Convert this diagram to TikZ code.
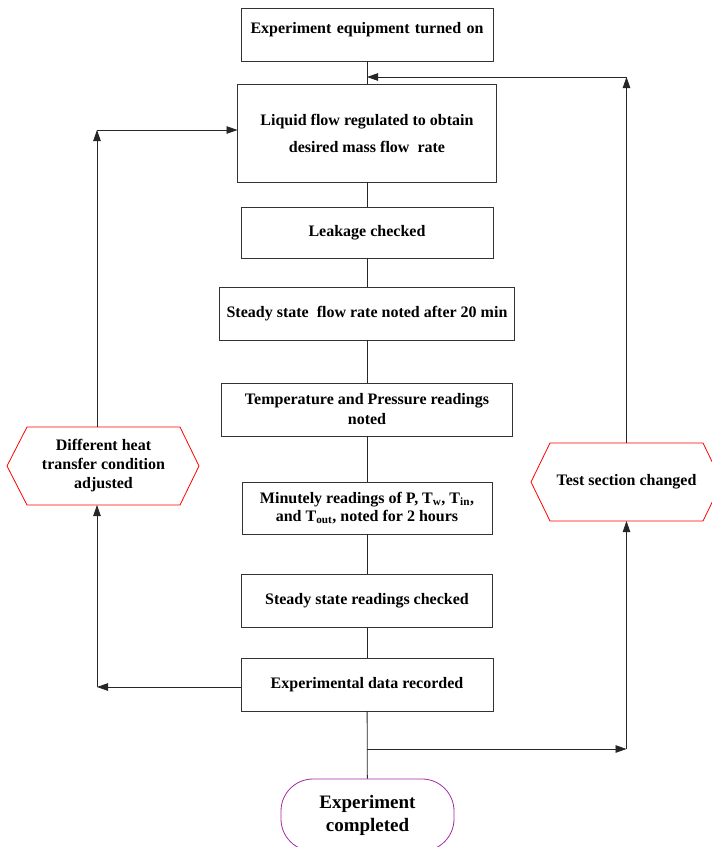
\documentclass[tikz,border=0pt]{standalone}
\usepackage{fontspec}
\setmainfont{Liberation Serif}
\usepackage{tikz}
\usetikzlibrary{arrows.meta}
\definecolor{endpurple}{RGB}{165,40,165}

\begin{document}
\begin{tikzpicture}[x=1pt, y=-1pt,
  stepbox/.style={draw=black!80, line width=0.8pt, rectangle, inner sep=0pt, outer sep=0pt,
    align=center, font=\fontsize{16}{20}\selectfont\bfseries},
  hexbox/.style={rectangle, inner sep=0pt, outer sep=0pt, minimum width=153pt, minimum height=78pt,
    align=center, font=\fontsize{16}{19}\selectfont\bfseries},
  hexline/.style={draw=red, line width=0.8pt},
  endbox/.style={draw=endpurple, line width=0.8pt, rounded corners=32pt, inner sep=0pt,
    minimum width=173pt, minimum height=72pt, align=center, font=\fontsize{19}{23}\selectfont\bfseries},
  link/.style={black!85, line width=0.8pt},
  flow/.style={link, -{Triangle[length=11pt,width=7.5pt]}}]

\useasboundingbox (0,0) rectangle (712,847);

% nodes
{
\node[stepbox, text width=252pt, text height=25pt, text depth=28pt] (box1) at (367,34.5) {Experiment equipment turned on};

\node[stepbox, minimum width=259pt, minimum height=98pt, font=\fontsize{16}{27}\selectfont\bfseries] (box2) at (367,133)
  {Liquid flow regulated to obtain\\desired mass flow\ \ rate};

\node[stepbox, minimum width=252pt, minimum height=51pt] (box3) at (367,232.5) {Leakage checked};

\node[stepbox, minimum width=295pt, minimum height=53pt] (box4) at (367,313.5) {Steady state\ \ flow rate noted after 20 min};

\node[stepbox, minimum width=291pt, minimum height=53pt] (box5) at (367,409.5) {Temperature and Pressure readings\\noted};

\node[stepbox, minimum width=250pt, minimum height=52pt, font=\fontsize{16}{18}\selectfont\bfseries] (box6) at (367,508)
  {Minutely readings of P, T\textsubscript{w}, T\textsubscript{in},\\and T\textsubscript{out}, noted for 2 hours};

\node[stepbox, minimum width=251pt, minimum height=53pt] (box7) at (367,600.5) {Steady state readings checked};

\node[stepbox, minimum width=252pt, minimum height=53pt] (box8) at (367,684.5) {Experimental data recorded};

\node[endbox] (done) at (367.5,815) {Experiment\\completed};

\node[hexbox] (lhex) at (103.5,466) {Different heat\\transfer condition\\adjusted};

\node[hexbox] (rhex) at (626.5,482) {Test section changed};
}

% hexagons
\draw[hexline] (lhex.north west) -- (lhex.north east) -- ([xshift=19pt]lhex.east) -- (lhex.south east)
  -- (lhex.south west) -- ([xshift=-20pt]lhex.west) -- cycle;
\draw[hexline] (rhex.north west) -- (rhex.north east) -- ([xshift=19pt]rhex.east) -- (rhex.south east)
  -- (rhex.south west) -- ([xshift=-19pt]rhex.west) -- cycle;

% turning points
\coordinate (split) at (367,749);
\coordinate (rtop) at (367,77);
\coordinate (ltop) at (97,130);
\coordinate (lbot) at (97,687);

% main line
\draw[link] (box1) -- (box2);
\draw[link] (box2) -- (box3);
\draw[link] (box3) -- (box4);
\draw[link] (box4) -- (box5);
\draw[link] (box5) -- (box6);
\draw[link] (box6) -- (box7);
\draw[link] (box7) -- (box8);
\draw[link] (box8) -- (done);

% right loop
\draw[flow] (split) -- (split -| rhex.south);
\draw[flow] (split -| rhex.south) -- (rhex.south);
\draw[flow] (rhex.north) -- (rtop -| rhex.north);
\draw[flow] (rtop -| rhex.north) -- (rtop);

% left loop
\draw[flow] (lbot -| box8.west) -- (lbot);
\draw[flow] (lbot) -- (lbot |- lhex.south);
\draw[flow] (lbot |- lhex.north) -- (ltop);
\draw[flow] (ltop) -- (ltop -| box2.west);

\end{tikzpicture}
\end{document}
